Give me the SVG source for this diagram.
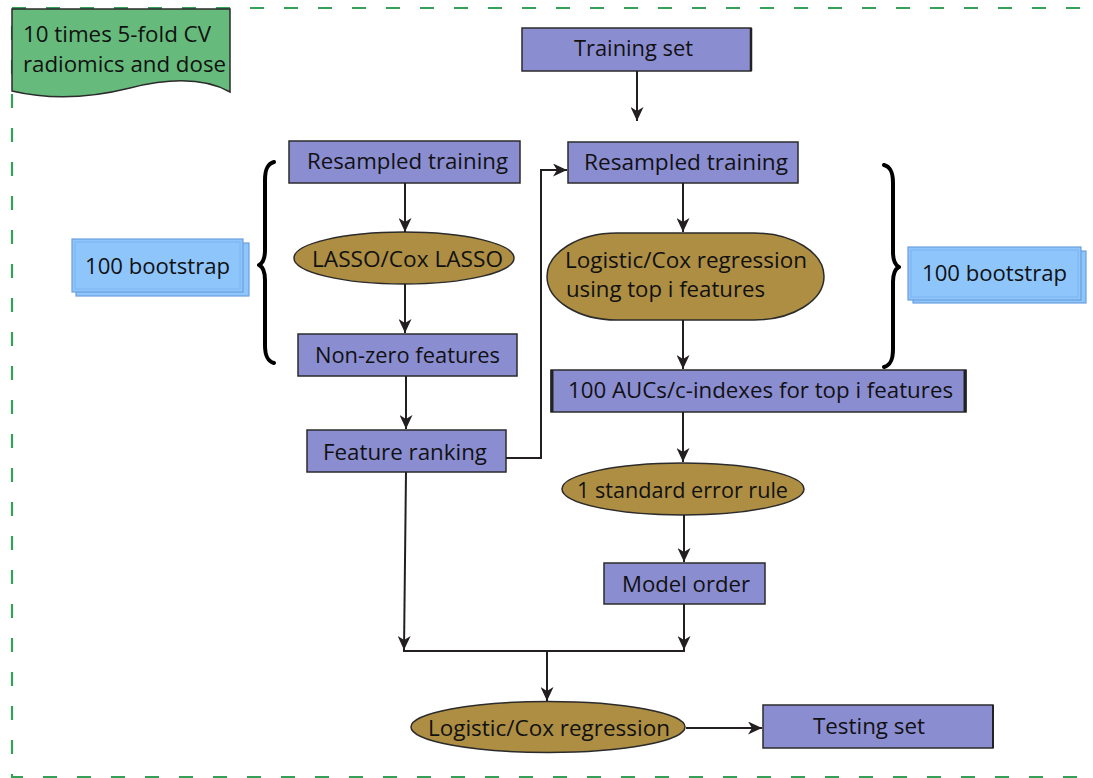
<svg xmlns="http://www.w3.org/2000/svg" width="1093" height="778" viewBox="0 0 1093 778">
<defs>
<style>
.box{fill:#8b8dd1;stroke:#2b2b2b;stroke-width:1.5}
.oval{fill:#ad8e43;stroke:#2b2b2b;stroke-width:1.5}
.bs{fill:#8ec5fb;stroke:#6a9fe0;stroke-width:1.2}
.t{font-family:"Open Sans","Liberation Sans",sans-serif;font-size:21px;fill:#111}
.c{fill:none;stroke:#231f20;stroke-width:2}
.brace{fill:none;stroke:#000;stroke-width:4;stroke-linejoin:round;stroke-linecap:round}
</style>
<marker id="ah" markerUnits="userSpaceOnUse" markerWidth="14" markerHeight="13" viewBox="0 0 14 13" refX="14" refY="6.5" orient="auto">
<path d="M0,0 L14,6.5 L0,13 L4,6.5 Z" fill="#231f20"/>
</marker>
</defs>
<rect width="1093" height="778" fill="#fff"/>
<rect x="12" y="8" width="1100" height="769" fill="none" stroke="#35a058" stroke-width="2.2" stroke-dasharray="14 20"/>

<g id="note">
<path d="M12,9 L230,9 L230,92 C205,78 170,78 130,88 C90,98 50,100 12,91 Z" fill="#66bb7c" stroke="#2b2b2b" stroke-width="1.5"/>
<text class="t" x="23" y="42" textLength="188" lengthAdjust="spacingAndGlyphs">10 times 5-fold CV</text>
<text class="t" x="23" y="72" textLength="203" lengthAdjust="spacingAndGlyphs">radiomics and dose</text>
</g>

<g id="training-set">
<rect class="box" x="522" y="28" width="229" height="43"/>
<line x1="751" y1="28" x2="751" y2="71" stroke="#222" stroke-width="2.5"/>
<text class="t" x="574" y="56" textLength="119" lengthAdjust="spacingAndGlyphs">Training set</text>
</g>

<g id="resampled-left">
<rect class="box" x="289" y="141" width="231" height="42"/>
<text class="t" x="307" y="169" textLength="201" lengthAdjust="spacingAndGlyphs">Resampled training</text>
</g>

<g id="lasso">
<ellipse class="oval" cx="404" cy="258" rx="110" ry="26"/>
<text class="t" x="312" y="267" textLength="191" lengthAdjust="spacingAndGlyphs">LASSO/Cox LASSO</text>
</g>

<g id="nonzero">
<rect class="box" x="298" y="334" width="219" height="42"/>
<text class="t" x="315" y="363" textLength="185" lengthAdjust="spacingAndGlyphs">Non-zero features</text>
</g>

<g id="feature-ranking">
<rect class="box" x="307" y="430" width="199" height="42"/>
<text class="t" x="323" y="460" textLength="164" lengthAdjust="spacingAndGlyphs">Feature ranking</text>
</g>

<g id="resampled-right">
<rect class="box" x="568" y="142" width="230" height="41"/>
<text class="t" x="584" y="170" textLength="204" lengthAdjust="spacingAndGlyphs">Resampled training</text>
</g>

<g id="logistic-top">
<rect class="oval" x="547" y="233" width="277" height="87" rx="70" ry="43.5"/>
<text class="t" x="565" y="268" textLength="242" lengthAdjust="spacingAndGlyphs">Logistic/Cox regression</text>
<text class="t" x="566" y="297" textLength="199" lengthAdjust="spacingAndGlyphs">using top i features</text>
</g>

<g id="aucs">
<rect class="box" x="551" y="370" width="415" height="42"/>
<line x1="552" y1="370" x2="552" y2="412" stroke="#222" stroke-width="3"/>
<line x1="965" y1="370" x2="965" y2="412" stroke="#222" stroke-width="3"/>
<text class="t" x="568" y="398" textLength="385" lengthAdjust="spacingAndGlyphs">100 AUCs/c-indexes for top i features</text>
</g>

<g id="one-se">
<ellipse class="oval" cx="683" cy="489" rx="121" ry="26"/>
<text class="t" x="577" y="498" textLength="211" lengthAdjust="spacingAndGlyphs">1 standard error rule</text>
</g>

<g id="model-order">
<rect class="box" x="604" y="563" width="161" height="41"/>
<text class="t" x="622" y="592" textLength="128" lengthAdjust="spacingAndGlyphs">Model order</text>
</g>

<g id="logistic-bottom">
<ellipse class="oval" cx="548" cy="727" rx="137" ry="25.5"/>
<text class="t" x="428" y="736" textLength="242" lengthAdjust="spacingAndGlyphs">Logistic/Cox regression</text>
</g>

<g id="testing-set">
<rect class="box" x="763" y="705" width="230" height="43"/>
<line x1="993" y1="705" x2="993" y2="748" stroke="#222" stroke-width="2"/>
<text class="t" x="813" y="734" textLength="112" lengthAdjust="spacingAndGlyphs">Testing set</text>
</g>

<g id="bootstrap-left">
<rect class="bs" x="76" y="243" width="173" height="53"/>
<rect class="bs" x="72" y="239" width="171" height="53"/>
<rect x="75" y="242" width="165" height="47" fill="none" stroke="#7fb4f0" stroke-width="1"/>
<text class="t" x="85" y="274" textLength="145" lengthAdjust="spacingAndGlyphs">100 bootstrap</text>
</g>

<g id="bootstrap-right">
<rect class="bs" x="913" y="251" width="173" height="52"/>
<rect class="bs" x="908" y="247" width="173" height="53"/>
<rect x="911" y="250" width="167" height="47" fill="none" stroke="#7fb4f0" stroke-width="1"/>
<text class="t" x="922" y="281" textLength="145" lengthAdjust="spacingAndGlyphs">100 bootstrap</text>
</g>

<g id="brace-left">
<path class="brace" d="M274,162 C267,164 265,170 265,180 L265,250 C265,259 263,263 259,265 C263,267 265,271 265,280 L265,345 C265,355 267,361 274,363"/>
</g>
<g id="brace-right">
<path class="brace" d="M884,165 C891,167 893,173 893,183 L893,252 C893,261 895,265 899,267 C895,269 893,273 893,282 L893,349 C893,359 891,365 884,367"/>
</g>

<g id="connectors">
<line class="c" x1="637" y1="71" x2="637" y2="121" marker-end="url(#ah)"/>
<line class="c" x1="405" y1="183" x2="405" y2="232" marker-end="url(#ah)"/>
<line class="c" x1="405" y1="284" x2="405" y2="333" marker-end="url(#ah)"/>
<line class="c" x1="406" y1="376" x2="406" y2="429" marker-end="url(#ah)"/>
<path class="c" d="M506,458 L541,458 L541,170 L567,170" marker-end="url(#ah)"/>
<line class="c" x1="683" y1="183" x2="683" y2="232" marker-end="url(#ah)"/>
<line class="c" x1="683" y1="320" x2="683" y2="369" marker-end="url(#ah)"/>
<line class="c" x1="683" y1="412" x2="683" y2="462" marker-end="url(#ah)"/>
<line class="c" x1="684" y1="515" x2="684" y2="562" marker-end="url(#ah)"/>
<path class="c" d="M406,472 L404,650" marker-end="url(#ah)"/>
<line class="c" x1="684" y1="604" x2="684" y2="650" marker-end="url(#ah)"/>
<line class="c" x1="403" y1="651" x2="685" y2="651"/>
<line class="c" x1="547" y1="651" x2="547" y2="701" marker-end="url(#ah)"/>
<line class="c" x1="686" y1="728" x2="762" y2="728" marker-end="url(#ah)"/>
</g>
</svg>
